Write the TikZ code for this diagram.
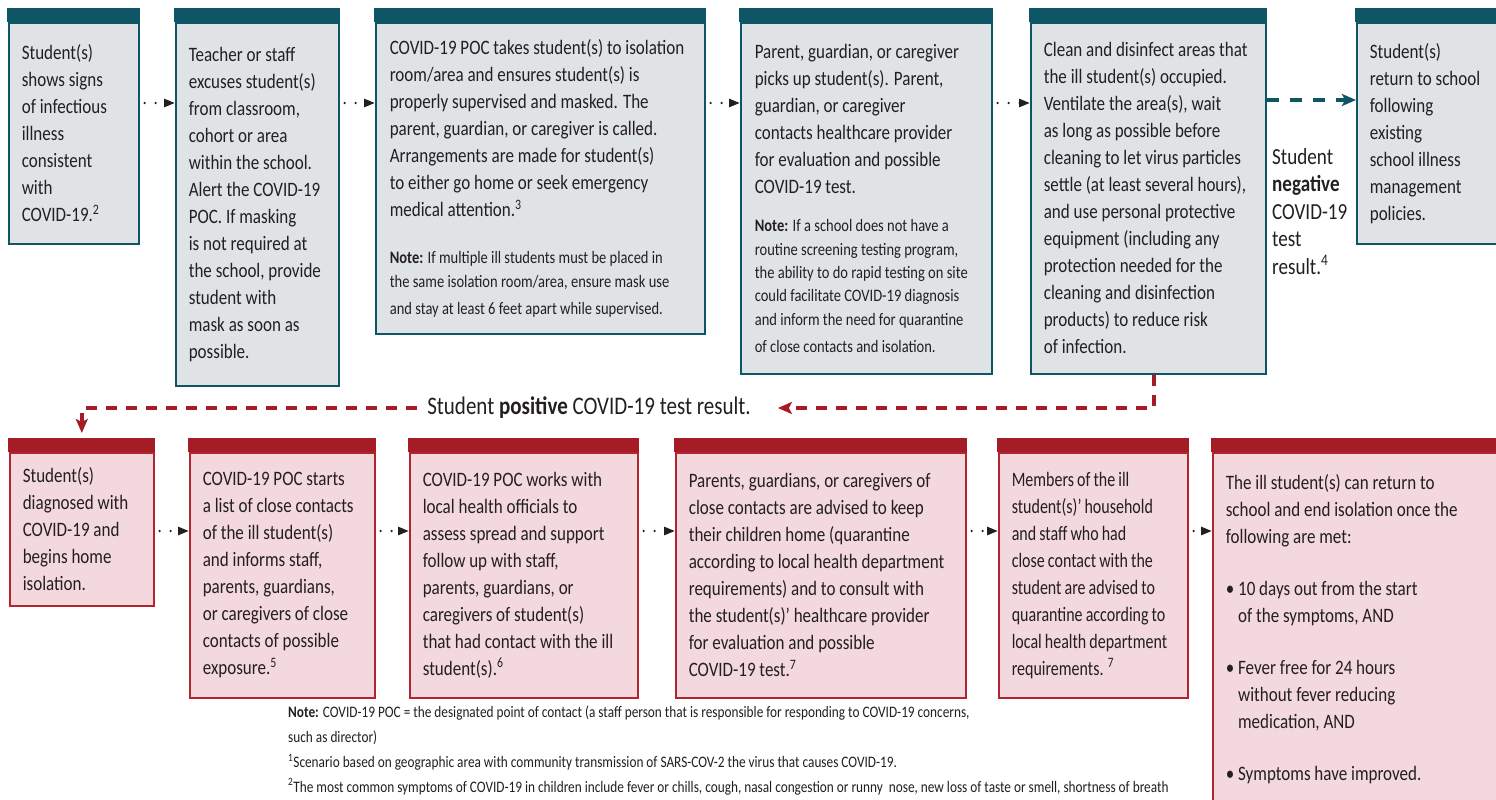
\documentclass[tikz,border=0pt]{standalone}
\usepackage{fontspec}
\setmainfont{Carlito}[FakeStretch=0.83]
\newfontfamily\condfont{Carlito}[FakeStretch=0.78, WordSpace=0.85]
\usetikzlibrary{arrows.meta,positioning,calc}

\definecolor{tealhdr}{RGB}{14,86,102}
\definecolor{tealfill}{RGB}{223,227,230}
\definecolor{redhdr}{RGB}{166,28,38}
\definecolor{redline}{RGB}{178,36,48}
\definecolor{pinkfill}{RGB}{243,216,221}
\definecolor{inktext}{RGB}{35,31,32}
\newcommand{\notesize}{\fontsize{17.5}{23.3}\selectfont}
\newcommand{\footsize}{\fontsize{16}{24.7}\selectfont}

\begin{document}
\begin{tikzpicture}[
    x=1pt, y=-1pt,
    font=\fontsize{20.5}{27}\selectfont,
    execute at begin node={\hyphenpenalty=10000\exhyphenpenalty=10000},
    text=inktext,
    tealbox/.style={rectangle, draw=tealhdr, line width=1.6pt, fill=tealfill, anchor=north west, inner xsep=13pt, inner ysep=0pt, align=flush left},
    redbox/.style={rectangle, draw=redline, line width=1.6pt, fill=pinkfill, anchor=north west, inner xsep=13pt, inner ysep=0pt, align=flush left},
    dotarrow/.style={inktext, line width=2.6pt, line cap=round, dash pattern=on 0pt off 11pt, shorten <=5pt, -{Triangle[length=11pt,width=8pt]}},
    tealdash/.style={tealhdr, line width=3.5pt, dash pattern=on 12pt off 11pt, -{Stealth[length=14pt,width=12pt,inset=3pt]}},
    reddash/.style={redhdr, line width=3.5pt, dash pattern=on 11pt off 9pt, -{Stealth[length=14pt,width=12pt,inset=3pt]}}
]
\useasboundingbox[fill=white] (0,0) rectangle (1496,800);

% Rows for the connectors
\coordinate (r1) at (0,103);
\coordinate (r2) at (0,531);

% Top row
\node[tealbox, text width=104pt, minimum height=221pt] (b1) at (8,22) {Student(s)\\ shows signs\\ of infectious\\ illness\\ consistent\\ with\\ COVID-19.\textsuperscript{2}};
\node[tealbox, text width=137pt, minimum height=363pt] (b2) at (175,22) {Teacher or staff\\ excuses student(s)\\ from classroom,\\ cohort or area\\ within the school.\\ Alert the COVID-19\\ POC. If masking\\ is not required at\\ the school, provide\\ student with\\ mask as soon as\\ possible.};
\node[tealbox, text width=301pt, minimum height=311pt, inner xsep=14pt] (b3) at (375,22) {COVID-19 POC takes student(s) to isolation\\ room/area and ensures student(s) is\\ properly supervised and masked. The\\ parent, guardian, or caregiver is called.\\ Arrangements are made for student(s)\\ to either go home or seek emergency\\ medical attention.\textsuperscript{3}\par\vspace{24pt}
  \notesize\textbf{Note:} If multiple ill students must be placed in\\ the same isolation room/area, ensure mask use\\ and stay at least 6 feet apart while supervised.};
\node[tealbox, text width=223pt, minimum height=351pt, inner xsep=14pt] (b4) at (740,22) {Parent, guardian, or caregiver\\ picks up student(s). Parent,\\ guardian, or caregiver\\ contacts healthcare provider\\ for evaluation and possible\\ COVID-19 test.\par\vspace{15pt}
  \notesize\textbf{Note:} If a school does not have a\\ routine screening testing program,\\ the ability to do rapid testing on site\\ could facilitate COVID-19 diagnosis\\ and inform the need for quarantine\\ of close contacts and isolation.};
\node[tealbox, text width=209pt, minimum height=351pt] (b5) at (1030,22) {Clean and disinfect areas that\\ the ill student(s) occupied.\\ Ventilate the area(s), wait\\ as long as possible before\\ cleaning to let virus particles\\ settle (at least several hours),\\ and use personal protective\\ equipment (including any\\ protection needed for the\\ cleaning and disinfection\\ products) to reduce risk\\ of infection.};
\node[tealbox, text width=124pt, minimum height=221pt] (b6) at (1356,22) {Student(s)\\ return to school\\ following\\ existing\\ school illness\\ management\\ policies.};

% Test result labels
\node[anchor=north west, align=left, inner sep=0pt, font=\fontsize{23}{27.5}\selectfont] (neg) at (1272,148) {Student\\ \textbf{negative}\\ COVID-19\\ test\\ result.\textsuperscript{4}};
\node[inner sep=0pt, font=\fontsize{25.3}{30}\selectfont] (pos) at (589,408) {Student \textbf{positive} COVID-19 test result.};

% Bottom row
\node[redbox, text width=118pt, minimum height=153pt] (b7) at (9,452) {Student(s)\\ diagnosed with\\ COVID-19 and\\ begins home\\ isolation.};
\node[redbox, text width=159pt, minimum height=245pt] (b8) at (189,452) {COVID-19 POC starts\\ a list of close contacts\\ of the ill student(s)\\ and informs staff,\\ parents, guardians,\\ or caregivers of close\\ contacts of possible\\ exposure.\textsuperscript{5}};
\node[redbox, text width=202pt, minimum height=245pt] (b9) at (409,452) {COVID-19 POC works with\\ local health officials to\\ assess spread and support\\ follow up with staff,\\ parents, guardians, or\\ caregivers of student(s)\\ that had contact with the ill\\ student(s).\textsuperscript{6}};
\node[redbox, text width=264pt, minimum height=245pt] (b10) at (675,452) {Parents, guardians, or caregivers of\\ close contacts are advised to keep\\ their children home (quarantine\\ according to local health department\\ requirements) and to consult with\\ the student(s)’ healthcare provider\\ for evaluation and possible\\ COVID-19 test.\textsuperscript{7}};
\node[redbox, text width=163pt, minimum height=245pt, font=\condfont\fontsize{20.5}{27}\selectfont] (b11) at (998,452) {Members of the ill\\ student(s)’ household\\ and staff who had\\ close contact with the\\ student are advised to\\ quarantine according to\\ local health department\\ requirements. \textsuperscript{7}};
\node[redbox, text width=274pt, minimum height=353pt] (b12) at (1212,452) {The ill student(s) can return to\\ school and end isolation once the\\ following are met:\par\vspace{25pt}
  \textbullet\ 10 days out from the start\\ \hphantom{\textbullet\ }of the symptoms, AND\par\vspace{25pt}
  \textbullet\ Fever free for 24 hours\\ \hphantom{\textbullet\ }without fever reducing\\ \hphantom{\textbullet\ }medication, AND\par\vspace{25pt}
  \textbullet\ Symptoms have improved.};

% Header bars
\fill[tealhdr] ([xshift=-0.8pt]b1.north west) rectangle ([xshift=0.8pt,yshift=14pt]b1.north east);
\fill[tealhdr] ([xshift=-0.8pt]b2.north west) rectangle ([xshift=0.8pt,yshift=14pt]b2.north east);
\fill[tealhdr] ([xshift=-0.8pt]b3.north west) rectangle ([xshift=0.8pt,yshift=14pt]b3.north east);
\fill[tealhdr] ([xshift=-0.8pt]b4.north west) rectangle ([xshift=0.8pt,yshift=14pt]b4.north east);
\fill[tealhdr] ([xshift=-0.8pt]b5.north west) rectangle ([xshift=0.8pt,yshift=14pt]b5.north east);
\fill[tealhdr] ([xshift=-0.8pt]b6.north west) rectangle ([xshift=0.8pt,yshift=14pt]b6.north east);
\fill[redhdr] ([xshift=-0.8pt]b7.north west) rectangle ([xshift=0.8pt,yshift=14pt]b7.north east);
\fill[redhdr] ([xshift=-0.8pt]b8.north west) rectangle ([xshift=0.8pt,yshift=14pt]b8.north east);
\fill[redhdr] ([xshift=-0.8pt]b9.north west) rectangle ([xshift=0.8pt,yshift=14pt]b9.north east);
\fill[redhdr] ([xshift=-0.8pt]b10.north west) rectangle ([xshift=0.8pt,yshift=14pt]b10.north east);
\fill[redhdr] ([xshift=-0.8pt]b11.north west) rectangle ([xshift=0.8pt,yshift=14pt]b11.north east);
\fill[redhdr] ([xshift=-0.8pt]b12.north west) rectangle ([xshift=0.8pt,yshift=14pt]b12.north east);

% Connections
\draw[dotarrow] (b1.east |- r1) -- (b2.west |- r1);
\draw[dotarrow] (b2.east |- r1) -- (b3.west |- r1);
\draw[dotarrow] (b3.east |- r1) -- (b4.west |- r1);
\draw[dotarrow] (b4.east |- r1) -- (b5.west |- r1);
\draw[tealdash] ([yshift=3pt]b5.east |- r1) -- ([yshift=3pt]b6.west |- r1);

\draw[reddash] ([xshift=5.5pt]b5.south) |- ([xshift=27pt]pos.east);
\draw[reddash] ([xshift=-10pt]pos.west) -| ([yshift=19pt]b7.north);

\draw[dotarrow] (b7.east |- r2) -- (b8.west |- r2);
\draw[dotarrow] (b8.east |- r2) -- (b9.west |- r2);
\draw[dotarrow] (b9.east |- r2) -- (b10.west |- r2);
\draw[dotarrow] (b10.east |- r2) -- (b11.west |- r2);
\draw[dotarrow] (b11.east |- r2) -- (b12.west |- r2);

% Footnotes
\node[anchor=north west, align=left, inner sep=0pt, font=\footsize] (notes) at (288,706) {\textbf{Note:} COVID-19 POC = the designated point of contact (a staff person that is responsible for responding to COVID-19 concerns,\\ such as director)\\ \textsuperscript{1}Scenario based on geographic area with community transmission of SARS-COV-2 the virus that causes COVID-19.\\ \textsuperscript{2}The most common symptoms of COVID-19 in children include fever or chills, cough, nasal congestion or runny\ \ nose, new loss of taste or smell, shortness of breath\\ or difficulty breathing, diarrhea or vomiting, stomachache, tiredness, headache, muscle or body aches, and poor appetite or poor feeding (especially in babies};
\end{tikzpicture}
\end{document}
